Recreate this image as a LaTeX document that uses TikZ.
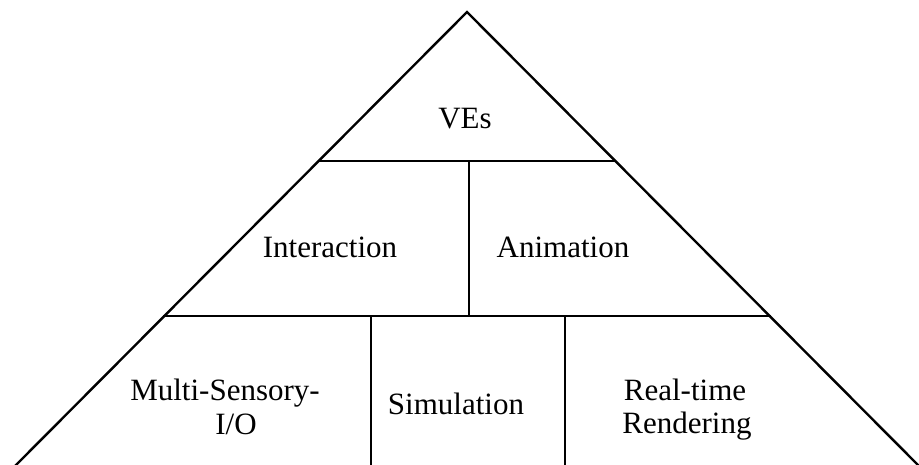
\documentclass[tikz,border=0pt]{standalone}
\usepackage{fontspec}
\setmainfont{Liberation Serif}
\begin{document}
\begin{tikzpicture}[x=1pt,y=-1pt,
  edge/.style={line width=2.4pt,line join=miter},
  lbl/.style={font=\fontsize{31}{36}\selectfont,inner sep=0pt,anchor=base}]
\useasboundingbox (0,0) rectangle (919,464);
\coordinate (apex) at (467,12);
\coordinate (bl) at (15,466);
\coordinate (br) at (919,466);
\coordinate (h1l) at (318,161);
\coordinate (h1r) at (616,161);
\coordinate (h2l) at (163,316);
\coordinate (h2r) at (771,316);
\coordinate (v1t) at (469,161);
\coordinate (v1b) at (469,316);
\coordinate (v2t) at (371,316);
\coordinate (v2b) at (371,466);
\coordinate (v3t) at (565,316);
\coordinate (v3b) at (565,466);
\draw[edge] (bl) -- (apex) -- (br);
\draw[edge] (h1l) -- (h1r);
\draw[edge] (h2l) -- (h2r);
\draw[edge] (v1t) -- (v1b);
\draw[edge] (v2t) -- (v2b);
\draw[edge] (v3t) -- (v3b);
\node[lbl] (ves) at (465,128) {VEs};
\node[lbl] (inter) at (330,257) {Interaction};
\node[lbl] (anim) at (563,257) {Animation};
\node[lbl] (ms1) at (225,400) {Multi-Sensory-};
\node[lbl] (ms2) at (236,434) {I/O};
\node[lbl] (sim) at (456,414) {Simulation};
\node[lbl] (rt1) at (685,400) {Real-time};
\node[lbl] (rt2) at (687,433) {Rendering};
\end{tikzpicture}
\end{document}
